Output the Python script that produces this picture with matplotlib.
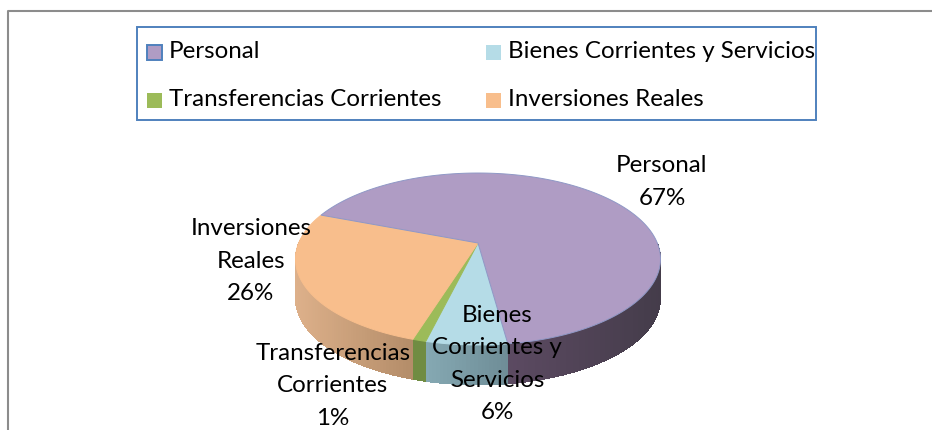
import matplotlib

matplotlib.use("Agg")
import matplotlib.pyplot as plt
import numpy as np
from matplotlib.patches import Polygon, Rectangle

plt.rcParams["font.family"] = ["Lato", "DejaVu Sans"]

categories = ["Personal", "Bienes Corrientes y Servicios", "Transferencias Corrientes", "Inversiones Reales"]
values = [67, 6, 1, 26]
slice_labels = ["Personal\n67%", "Bienes\nCorrientes y\nServicios\n6%", "Transferencias\nCorrientes\n1%", "Inversiones\nReales\n26%"]
top_colors = ["#AF9CC4", "#B5DCE7", "#9CBB59", "#F8BE8C"]
top_edges = ["#8F98C6", "#B5DCE7", "#9CBB59", "#F8BE8C"]
side_left = ["#5C4A62", "#86AAB4", "#708C42", "#DDB08A"]
side_right = ["#443C4A", "#6F8D97", "#66803C", "#B08A66"]

W, H = 932, 430
CX, CY = 478, 243
A, B, P = 179.3, 83, 0.186
DEPTH = 40
START = -69
FS = 17.4


def rim(theta):
    # perspective view of the pie's circular rim
    t = np.radians(theta)
    w = 1 + P * np.cos(t)
    return CX + A * np.sin(t) / w, CY - B * np.cos(t) / w


def mix(c1, c2, f):
    a = np.array(matplotlib.colors.to_rgb(c1))
    b = np.array(matplotlib.colors.to_rgb(c2))
    return a + (b - a) * f


fig = plt.figure(figsize=(W / 100, H / 100), dpi=100)
ax = fig.add_axes([0, 0, 1, 1])
ax.set_xlim(0, W)
ax.set_ylim(H, 0)
ax.axis("off")

# outer frame, cut off at the right and bottom of the image
ax.plot([8, 8, W], [H, 11, 11], color="#8C8C8C", lw=1.5)

edges = START + np.cumsum([0] + values) * 360 / sum(values)

# side wall, only the front part of the rim shows
for i in range(len(values)):
    th = np.arange(edges[i], edges[i + 1] + 0.5, 1.0)
    for a0, a1 in zip(th[:-1], th[1:]):
        if not 90 <= (a0 % 360) <= 272:
            continue
        x0, y0 = rim(a0)
        x1, y1 = rim(a1)
        if i == 0:
            f = (x0 - 508) / 153
        else:
            f = (x0 - 296) / 128 if i == 3 else (x0 - 424) / 84
        ax.add_patch(
            Polygon(
                [(x0, y0), (x1, y1), (x1, y1 + DEPTH), (x0, y0 + DEPTH)],
                closed=True,
                fc=mix(side_left[i], side_right[i], np.clip(f, 0, 1)),
                ec="none",
                aa=False,
                zorder=2,
            )
        )

# top faces
for i in range(len(values)):
    th = np.linspace(edges[i], edges[i + 1], 200)
    x, y = rim(th)
    pts = np.column_stack([np.r_[CX, x], np.r_[CY, y]])
    ax.add_patch(Polygon(pts, closed=True, fc=top_colors[i], ec=top_edges[i], lw=0.7, zorder=3 + (i == 0) * 0.5))

# legend box
ax.add_patch(Rectangle((137, 27), 679, 93, fc="white", ec="#4F81BD", lw=1.4, zorder=4))
legend_x = [147, 486, 147, 486]
legend_y = [52, 52, 100, 100]
for i, name in enumerate(categories):
    edge = "#4F81BD" if i == 0 else top_colors[i]
    ax.add_patch(Rectangle((legend_x[i], legend_y[i] - 7.5), 15, 15, fc=top_colors[i], ec=edge, lw=1.4 if i == 0 else 0, zorder=5))
    ax.text(legend_x[i] + 22, legend_y[i], name, fontsize=FS, va="center", ha="left", color="black", zorder=6)

# slice labels
label_pos = [(662, 182), (497, 364), (333, 386), (251, 261)]
for (lx, ly), text in zip(label_pos, slice_labels):
    ax.text(lx, ly, text, fontsize=FS, ha="center", va="center", linespacing=1.68, color="black", zorder=7)

fig.savefig("out.png", dpi=100)
